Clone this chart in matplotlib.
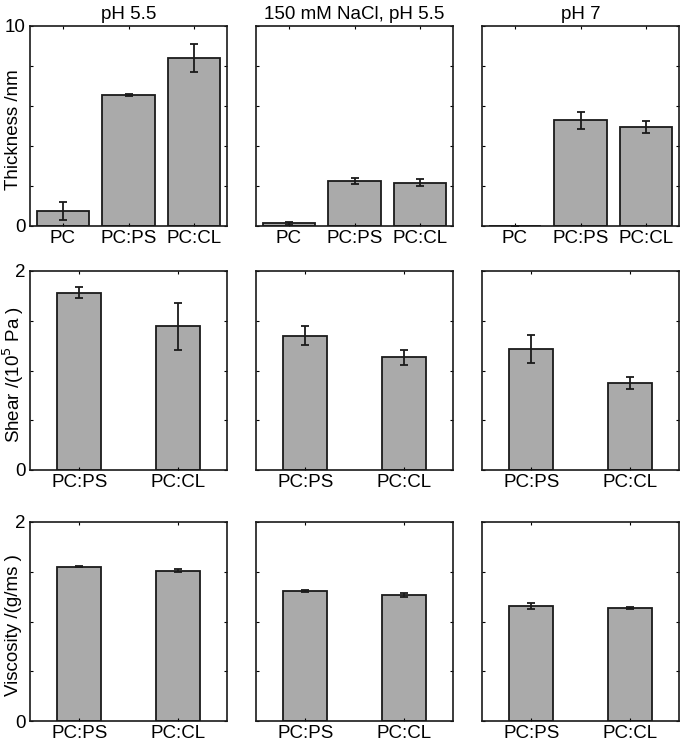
import matplotlib.pyplot as plt

plt.rcParams['font.family'] = ['Liberation Sans', 'DejaVu Sans']

conditions = ['pH 5.5', '150 mM NaCl, pH 5.5', 'pH 7']

thick_labels = ['PC', 'PC:PS', 'PC:CL']
thick_vals = [[0.77, 6.55, 8.42], [0.13, 2.25, 2.17], [0.0, 5.28, 4.95]]
thick_errs = [[0.45, 0.07, 0.70], [0.08, 0.14, 0.17], [0.0, 0.43, 0.32]]

lipid_labels = ['PC:PS', 'PC:CL']
shear_vals = [[1.78, 1.445], [1.35, 1.134], [1.214, 0.873]]
shear_errs = [[0.055, 0.235], [0.095, 0.075], [0.14, 0.057]]

visc_vals = [[1.548, 1.508], [1.31, 1.27], [1.152, 1.132]]
visc_errs = [[0.005, 0.015], [0.01, 0.02], [0.03, 0.01]]

rows = [
    (thick_labels, thick_vals, thick_errs, 10, 2, 0.8, 'Thickness /nm'),
    (lipid_labels, shear_vals, shear_errs, 2, 0.5, 0.45, 'Shear /(10$^5$ Pa )'),
    (lipid_labels, visc_vals, visc_errs, 2, 0.5, 0.45, 'Viscosity /(g/ms )'),
]

W, H = 680, 746
fig = plt.figure(figsize=(W / 100, H / 100), dpi=100)

col_x = [30, 256, 482]
row_y = [(26, 226), (271, 470), (522, 721)]
ax_w = 197
fs = 13.5

for r, (labels, vals, errs, ymax, ystep, bw, ylabel) in enumerate(rows):
    top, bot = row_y[r]
    for c in range(3):
        ax = fig.add_axes([col_x[c] / W, 1 - bot / H, ax_w / W, (bot - top) / H])
        x = list(range(1, len(labels) + 1))
        ax.bar(x, vals[c], width=bw, color='#aaaaaa', edgecolor='#1a1a1a', linewidth=1.3)
        ax.errorbar(x, vals[c], yerr=errs[c], fmt='none', ecolor='#1a1a1a',
                    elinewidth=1.3, capsize=3, capthick=1.3)
        ax.set_xlim(0.5, len(labels) + 0.5)
        ax.set_ylim(0, ymax)
        ax.set_xticks(x)
        ax.set_xticklabels(labels, fontsize=fs)
        nt = int(round(ymax / ystep))
        yt = [i * ystep for i in range(nt + 1)]
        ax.set_yticks(yt)
        if c == 0:
            ax.set_yticklabels(['0'] + [''] * (nt - 1) + ['%g' % ymax], fontsize=fs)
            ax.set_ylabel(ylabel, fontsize=fs, va='center')
            ax.yaxis.set_label_coords(-17 / ax_w, 0.48)
        else:
            ax.set_yticklabels([])
        ax.tick_params(direction='in', length=2.5, width=0.8, top=True, right=True, pad=3)
        for s in ax.spines.values():
            s.set_linewidth(1.2)
            s.set_color('#1a1a1a')
        if r == 0:
            ax.set_title(conditions[c], fontsize=fs, pad=5)

fig.savefig('out.png', dpi=100)
